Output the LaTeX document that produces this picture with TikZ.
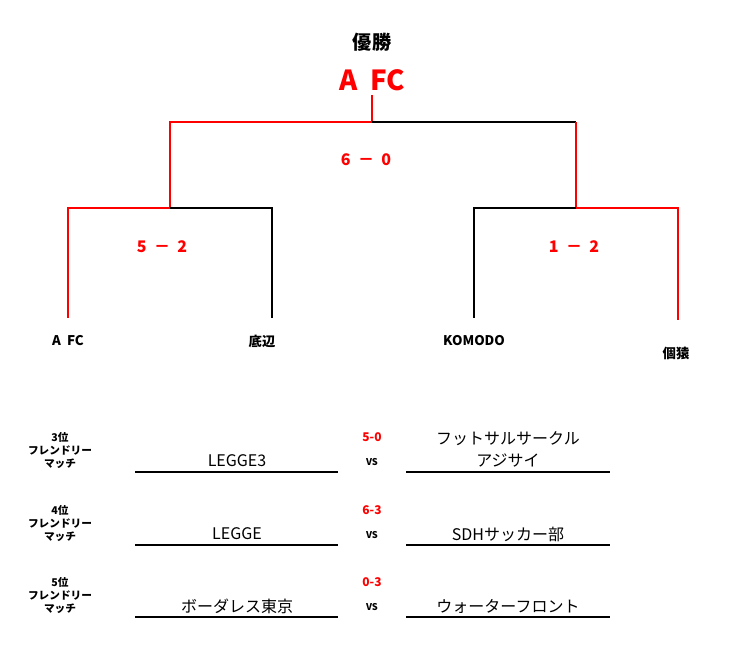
\documentclass[tikz,border=0pt]{standalone}
\usepackage{fontspec}
\setmainfont{Noto Sans CJK JP}
\usepackage{tikz}
\usetikzlibrary{positioning}
\definecolor{win}{HTML}{FF0000}

\begin{document}
\begin{tikzpicture}[
    x=0.75pt, y=-0.75pt,
    lose/.style={line width=1.2pt, black},
    won/.style={line width=1.2pt, win},
    score/.style={font=\bfseries\large, text=win},
    team/.style={font=\bfseries\normalsize},
    match/.style={font=\large},
    rank/.style={font=\bfseries\footnotesize, align=center, inner sep=0pt, text depth=0pt}
]
\useasboundingbox (0,0) rectangle (745,651);

% final
\node[font=\bfseries\Large] (title) at (372,42) {優勝};
\node[font=\bfseries\huge, text=win] (champ) at (372,80) {A\ \ FC};
\coordinate (top) at (372,95);
\coordinate (topj) at (372,122);
\coordinate (sl) at (170,122);
\coordinate (sr) at (576,122);
\coordinate (sla) at (170,208);
\coordinate (sra) at (576,208);
\draw[won] (top) -- (topj) -- (sl) -- (sla);
\draw[lose] (topj) -- (sr);
\draw[won] (sr) -- (sra);
\node[score] (final) at (366,160) {6\ \ －\ \ 0};

% semifinals
\coordinate (a1) at (68,208);
\coordinate (a2) at (272,208);
\coordinate (b1) at (474,208);
\coordinate (b2) at (678,208);
\draw[won] (sla) -- (a1) -- (68,318);
\draw[lose] (sla) -- (a2) -- (272,318);
\draw[lose] (sra) -- (b1) -- (474,318);
\draw[won] (sra) -- (b2) -- (678,320);
\node[score] (semia) at (162,247) {5\ \ －\ \ 2};
\node[score] (semib) at (574,247) {1\ \ －\ \ 2};

\node[team] (afc) at (68,341) {A\ \ FC};
\node[team] (teihen) at (262,341) {底辺};
\node[team] (komodo) at (474,341) {KOMODO};
\node[team] (koen) at (676,353) {個猿};

% friendly matches
\foreach \y/\r/\s/\l/\ra/\rb in {472/3/5-0/LEGGE3/フットサルサークル/アジサイ,
                                 545/4/6-3/LEGGE/{}/SDHサッカー部,
                                 617/5/0-3/ボーダレス東京/{}/ウォーターフロント} {
  \node[rank] (rank\r) at (60,\y-22) {\r 位\\フレンドリー\\マッチ};
  \draw[line width=0.8pt] (135,\y) -- (338,\y);
  \draw[line width=0.8pt] (406,\y) -- (610,\y);
  \node[font=\bfseries\small, text=win] (score\r) at (372,\y-35) {\s};
  \node[font=\bfseries\scriptsize] (vs\r) at (372,\y-10) {VS};
  \node[match] (left\r) at (237,\y-11) {\l};
  \node[match] (right\r) at (508,\y-11) {\rb};
  \node[match] (rtop\r) at (508,\y-33) {\ra};
}
\end{tikzpicture}
\end{document}
